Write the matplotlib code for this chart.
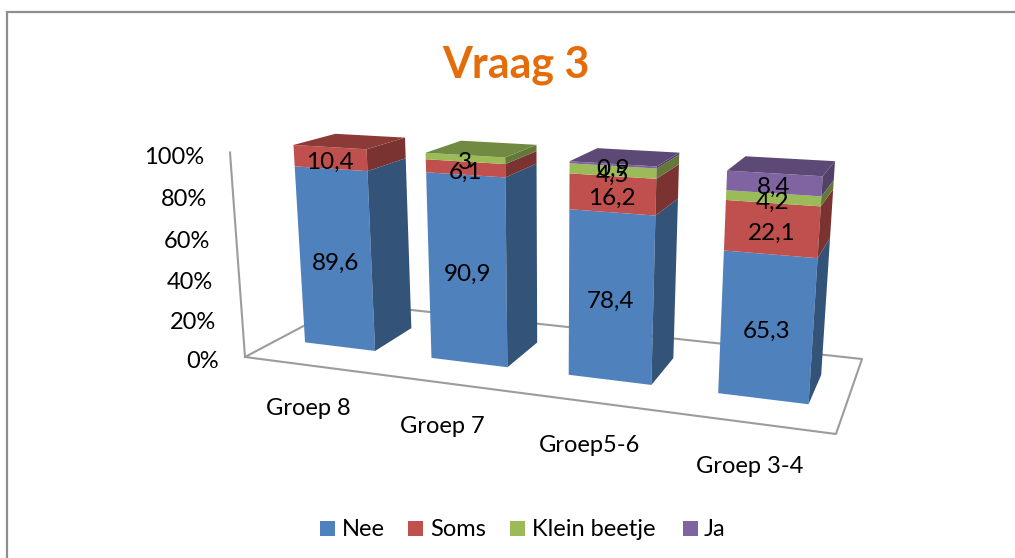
import matplotlib.pyplot as plt
import numpy as np
from matplotlib.patches import Polygon, Rectangle

groups = ["Groep 8", "Groep 7", "Groep5-6", "Groep 3-4"]
series_names = ["Nee", "Soms", "Klein beetje", "Ja"]
nee = [89.6, 90.9, 78.4, 65.3]
soms = [10.4, 6.1, 16.2, 22.1]
klein_beetje = [0, 3, 4.5, 4.2]
ja = [0, 0, 0.9, 8.4]
y_ticks = [0, 20, 40, 60, 80, 100]

colors = ["#4F81BD", "#C0504D", "#9BBB59", "#8064A2"]
legend_box_x = [320, 408, 510, 683]
legend_text_x = [342, 430, 532, 704]

# camera matrix, fitted by hand on the floor corners and the left axis line
# u = along the categories (0-1), v = depth (0-1), h = percent / 100
P = np.array([
    [454.2, 156.1, -25.72, 245.0],
    [6.0, -6.8, -211.6, 357.0],
    [-0.1636, 0.1558, -0.0466, 1.0],
])
BAR_HALF = 0.0705
V_FRONT = 0.30
V_BACK = 0.70

plt.rcParams["font.family"] = ["Lato", "DejaVu Sans"]


def project(u, v, pct):
    x, y, w = P @ np.array([u, v, pct / 100.0, 1.0])
    return x / w, y / w


def face(ax, points, color, zorder=2):
    ax.add_patch(Polygon([project(*p) for p in points], closed=True, facecolor=color,
                         edgecolor="none", zorder=zorder))


def shade(color, factor):
    rgb = np.array(plt.matplotlib.colors.to_rgb(color))
    return tuple(rgb * factor)


fig = plt.figure(figsize=(10.15, 5.58), dpi=100)
ax = fig.add_axes([0, 0, 1, 1])
ax.set_xlim(0, 1015)
ax.set_ylim(558, 0)
ax.axis("off")

# chart frame, only top and left are inside the crop
ax.plot([7.5, 7.5, 1015], [558, 12, 12], color="#8E8E8E", lw=1.6, solid_joinstyle="miter")

ax.text(516, 65, "Vraag 3", ha="center", va="center", fontsize=31, fontweight="bold", color="#E46C0A")

# floor and left axis line
floor = [(0, 0, 0), (1, 0, 0), (1, 1, 0), (0, 1, 0), (0, 0, 0)]
xs, ys = zip(*[project(*p) for p in floor])
ax.plot(xs, ys, color="#9C9C9C", lw=1.5, zorder=1)
xs, ys = zip(project(0, 0, 0), project(0, 0, 100))
ax.plot(xs, ys, color="#9C9C9C", lw=1.5, zorder=1)

for tick in y_ticks:
    x, y = project(0, 0, tick)
    ax.text(x - 26, y + 4.5, f"{tick}%", ha="right", va="center", fontsize=17, color="black")

stack = np.array([nee, soms, klein_beetje, ja])
n_groups = len(groups)

for i, name in enumerate(groups):
    center = (i + 0.5) / n_groups
    u0, u1 = center - BAR_HALF, center + BAR_HALF
    bottom = 0.0
    for s in range(len(series_names)):
        value = stack[s, i]
        if value == 0:
            continue
        top = bottom + value
        face(ax, [(u0, V_FRONT, bottom), (u1, V_FRONT, bottom), (u1, V_FRONT, top), (u0, V_FRONT, top)], colors[s])
        face(ax, [(u1, V_FRONT, bottom), (u1, V_BACK, bottom), (u1, V_BACK, top), (u1, V_FRONT, top)],
             shade(colors[s], 0.64))
        last = s
        bottom = top
    face(ax, [(u0, V_FRONT, bottom), (u1, V_FRONT, bottom), (u1, V_BACK, bottom), (u0, V_BACK, bottom)],
         shade(colors[last], 0.73))

    x, y = project(center, 0, 0)
    ax.text(x, y + 43.5, name, ha="center", va="center", fontsize=17, color="black")

# value labels go on top of all the bars
for i in range(n_groups):
    center = (i + 0.5) / n_groups
    bottom = 0.0
    for s in range(len(series_names)):
        value = stack[s, i]
        if value == 0:
            continue
        x, y = project(center, V_FRONT, bottom + value / 2)
        label = f"{value:g}".replace(".", ",")
        ax.text(x, y + 4, label, ha="center", va="center", fontsize=17.5, color="black", zorder=5)
        bottom += value

for s, name in enumerate(series_names):
    ax.add_patch(Rectangle((legend_box_x[s], 521), 15, 15, facecolor=colors[s], edgecolor="none"))
    ax.text(legend_text_x[s], 529.5, name, ha="left", va="center", fontsize=17, color="black")

fig.savefig("out.png", dpi=100)
